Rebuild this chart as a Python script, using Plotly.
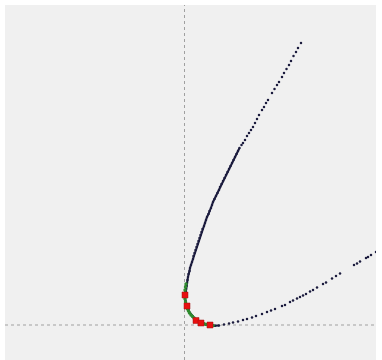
import plotly.graph_objects as go

# Sampled points along the curve
curve_x = [11.65, 11.35, 11.15, 10.9, 10.65, 10.45, 10.2, 9.95, 9.75, 9.45, 9.25, 9.0, 8.75,
           8.35, 8.15, 7.95, 7.75, 7.45, 7.25, 7.05, 6.85, 6.65, 6.45, 6.25, 6.05, 5.85, 5.7,
           5.5, 5.35, 5.2, 5.05, 4.9, 4.75, 4.6, 4.45, 4.3, 4.15, 4.0, 3.85, 3.7, 3.55, 3.45,
           3.3, 3.15, 3.0, 2.85, 2.75, 2.65, 2.5, 2.4, 2.25, 2.15, 2.05, 1.95, 1.8, 1.7, 1.6,
           1.5, 1.4, 1.3, 1.2, 1.1, 1.0, 0.9, 0.85, 0.75, 0.65, 0.55, 0.5, 0.4, 0.35, 0.3,
           0.25, 0.2, 0.15, 0.1, 0.05, 0.05, 0.1, 0.15, 0.25, 0.4, 0.55, 0.8, 1.05, 1.35, 1.7,
           2.15, 2.65, 3.05, 3.45,
           3.95, 4.45, 4.85, 5.35, 5.85, 6.25, 6.75, 7.15, 7.75, 8.25, 8.65, 9.05, 9.75, 10.05,
           10.55, 10.85, 11.25, 11.55, 11.85, 12.15, 12.55, 12.85, 13.25, 13.85, 14.15, 14.75,
           15.15, 15.55, 16.95, 17.25, 17.55, 18.15, 18.35, 18.65, 19.15]
curve_y = [28.2, 27.7, 27.3, 26.9, 26.4, 26.0, 25.6, 25.2, 24.8, 24.3, 24.0, 23.6, 23.2,
           22.5, 22.2, 21.8, 21.5, 21.0, 20.6, 20.2, 19.8, 19.5, 19.2, 18.9, 18.5, 18.2, 18.0,
           17.7, 17.4, 17.1, 16.8, 16.5, 16.2, 15.9, 15.6, 15.3, 15.0, 14.7, 14.4, 14.1, 13.8,
           13.5, 13.2, 12.9, 12.6, 12.3, 12.0, 11.7, 11.4, 11.1, 10.8, 10.5, 10.2, 9.9, 9.6,
           9.3, 9.0, 8.7, 8.4, 8.1, 7.8, 7.5, 7.2, 6.9, 6.6, 6.3, 6.0, 5.7, 5.4, 5.1, 4.8, 4.5,
           4.2, 3.9, 3.6, 3.3, 3.0, 2.7, 2.4, 2.1, 1.8, 1.5, 1.2, 0.9, 0.6, 0.4, 0.2, 0.05,
           -0.05, -0.08, -0.05,
           0.05, 0.15, 0.25, 0.35, 0.5, 0.6, 0.75, 0.9, 1.1, 1.3, 1.45, 1.6, 1.9, 2.0, 2.3,
           2.45, 2.65, 2.8, 2.95, 3.1, 3.35, 3.5, 3.75, 4.1, 4.25, 4.65, 4.9, 5.15, 6.0, 6.15,
           6.35, 6.7, 6.8, 7.0, 7.3]

# Highlighted segment near the turning point
near_x = [0.15, 0.1, 0.05, 0.05, 0.05, 0.1, 0.15, 0.3, 0.4, 0.5, 0.65, 0.8, 0.95, 1.35,
          1.9, 2.1, 2.3, 2.85]
near_y = [4.1, 3.8, 3.5, 3.2, 2.6, 2.3, 2.1, 1.6, 1.4, 1.2, 1.0, 0.85, 0.7, 0.35, 0.15,
          0.08, 0.03, -0.05]

# Key points
key_x = [0.05, 0.25, 1.15, 1.65, 2.55]
key_y = [3.0, 1.9, 0.45, 0.2, 0.0]

# Densely sampled stretch of the curve, drawn as a solid stroke
DENSE = slice(27, 91)

fig = go.Figure()
fig.add_trace(go.Scatter(x=curve_x[DENSE], y=curve_y[DENSE], mode="lines",
                         line=dict(color="#1c1c3e", width=2),
                         hoverinfo="skip", showlegend=False))
fig.add_trace(go.Scatter(x=curve_x, y=curve_y, mode="markers",
                         marker=dict(size=2.5, color="#1c1c3e"),
                         hoverinfo="skip", showlegend=False))
fig.add_trace(go.Scatter(x=near_x, y=near_y, mode="markers",
                         marker=dict(size=3.5, color="#2e8b2e"),
                         showlegend=False))
fig.add_trace(go.Scatter(x=key_x, y=key_y, mode="markers",
                         marker=dict(size=6, symbol="square", color="#e81010",
                                     line=dict(color="#a01010", width=0.5)),
                         showlegend=False))

# Dotted origin lines
fig.add_shape(type="line", xref="x", yref="paper", x0=0, x1=0, y0=0, y1=1,
              line=dict(color="#a0a0a0", width=1, dash="dot"), layer="below")
fig.add_shape(type="line", xref="paper", yref="y", x0=0, x1=1, y0=0, y1=0,
              line=dict(color="#a0a0a0", width=1, dash="dot"), layer="below")

fig.update_xaxes(range=[-17.95, 19.15], showgrid=False, zeroline=False,
                 showticklabels=False, ticks="")
fig.update_yaxes(range=[-3.5, 32.0], showgrid=False, zeroline=False,
                 showticklabels=False, ticks="")
fig.update_layout(width=382, height=360,
                  margin=dict(l=5, r=6, t=5, b=0),
                  paper_bgcolor="white", plot_bgcolor="#f0f0f0")

fig.write_html("out.html")
